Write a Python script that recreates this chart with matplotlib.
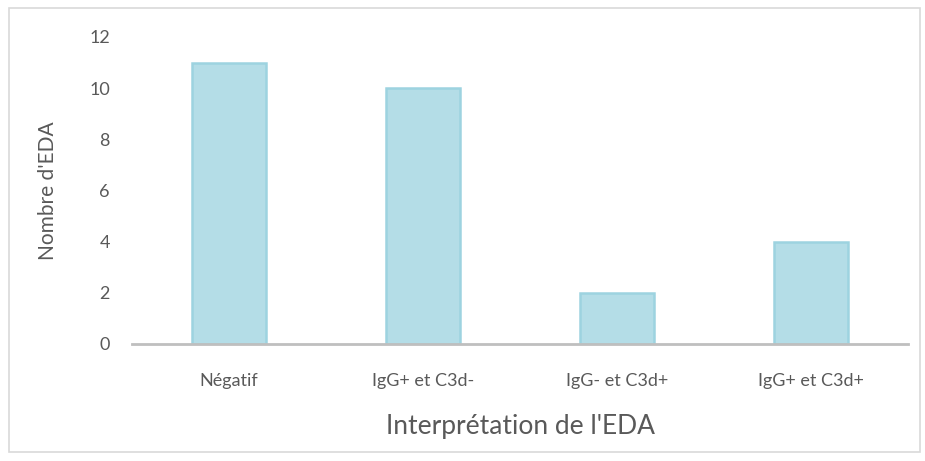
import matplotlib.pyplot as plt
from matplotlib.patches import Rectangle

categories = ['Négatif', 'IgG+ et C3d-', 'IgG- et C3d+', 'IgG+ et C3d+']
counts = [11, 10, 2, 4]

plt.rcParams['font.family'] = ['Lato', 'DejaVu Sans']
txt = '#595959'

fig = plt.figure(figsize=(9.25, 4.61), dpi=100)
fig.patches.append(Rectangle((9 / 925, 1 - 452 / 461), 911 / 925, 444 / 461,
                             transform=fig.transFigure, fill=False,
                             edgecolor='#d9d9d9', linewidth=1.2))

ax = fig.add_axes([132 / 925, 1 - 344 / 461, 776 / 925, 307 / 461])
x = range(len(categories))
ax.bar(x, counts, width=0.38, color='#b4dde7', edgecolor='#9dd3e0', linewidth=1.8)

ax.set_xlim(-0.5, len(categories) - 0.5)
ax.set_ylim(0, 12)
ax.set_yticks(range(0, 13, 2))
ax.set_xticks(list(x))
ax.set_xticklabels(categories)
ax.tick_params(axis='both', length=0, labelsize=13, colors=txt)
ax.tick_params(axis='y', pad=16)
ax.tick_params(axis='x', pad=21)

for s in ['top', 'right', 'left']:
    ax.spines[s].set_visible(False)
ax.spines['bottom'].set_color('#bfbfbf')
ax.spines['bottom'].set_linewidth(2)

ax.set_xlabel("Interprétation de l'EDA", fontsize=19, color=txt, labelpad=18)
ax.set_ylabel("Nombre d'EDA", fontsize=15, color=txt, labelpad=22)

fig.savefig('out.png', dpi=100)
